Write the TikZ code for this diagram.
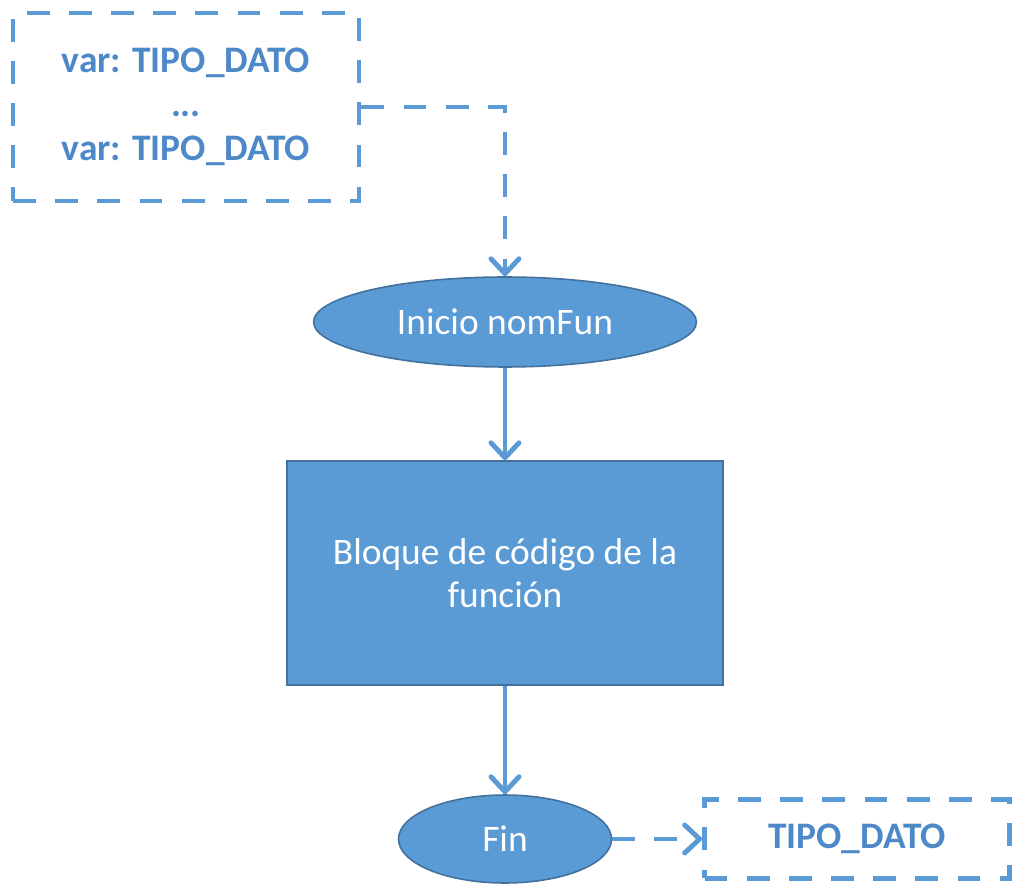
\documentclass[tikz,border=0pt]{standalone}
\usepackage{fontspec}
\setmainfont{Carlito}
\usetikzlibrary{shapes.geometric}
\usetikzlibrary{positioning}
\usetikzlibrary{arrows.meta}
\definecolor{officeblue}{HTML}{5B9BD5}
\definecolor{officeedge}{HTML}{41719C}
\definecolor{typetext}{HTML}{4D88C9}

\begin{document}
\begin{tikzpicture}[x=0.02cm, y=-0.02cm,
    flowshape/.style={draw=officeedge, line width=0.9pt, fill=officeblue, text=white, font=\fontsize{21.3}{24.5}\selectfont, align=center},
    typebox/.style={draw=officeblue, line width=2.8pt, dash pattern=on 13pt off 11pt, text=typetext, font=\fontsize{21.3}{25}\selectfont\bfseries, align=center},
    flowarrow/.style={draw=officeblue, line width=2.8pt, -{Straight Barb[length=0.3cm, width=0.56cm, round]}},
    typearrow/.style={flowarrow, dash pattern=on 13pt off 11pt}]
            \useasboundingbox (0,0) rectangle (1013,884);
            % function header and body
            \node[typebox, minimum width=6.92cm, minimum height=3.76cm] (params) at (186,107) {var: TIPO\_DATO\\...\\var: TIPO\_DATO};
            \node[flowshape, ellipse, minimum width=7.66cm, minimum height=1.8cm] (inicio) at (505,322) {Inicio nomFun};
            \node[flowshape, rectangle, minimum width=8.72cm, minimum height=4.48cm] (bloque) at (505,573) {Bloque de código de la\\función};
            \node[flowshape, ellipse, minimum width=4.26cm, minimum height=1.76cm] (fin) at (505,839) {Fin};
            \node[typebox, minimum width=6.1cm, minimum height=1.58cm] (tipo) at (857,839) {TIPO\_DATO};

            \draw[typearrow] (params.east) -| (inicio.north);
            \draw[flowarrow] (inicio) -- (bloque);
            \draw[flowarrow] (bloque) -- (fin);
            \draw[typearrow] (fin.east) -- (tipo.west);
        \end{tikzpicture}
\end{document}
